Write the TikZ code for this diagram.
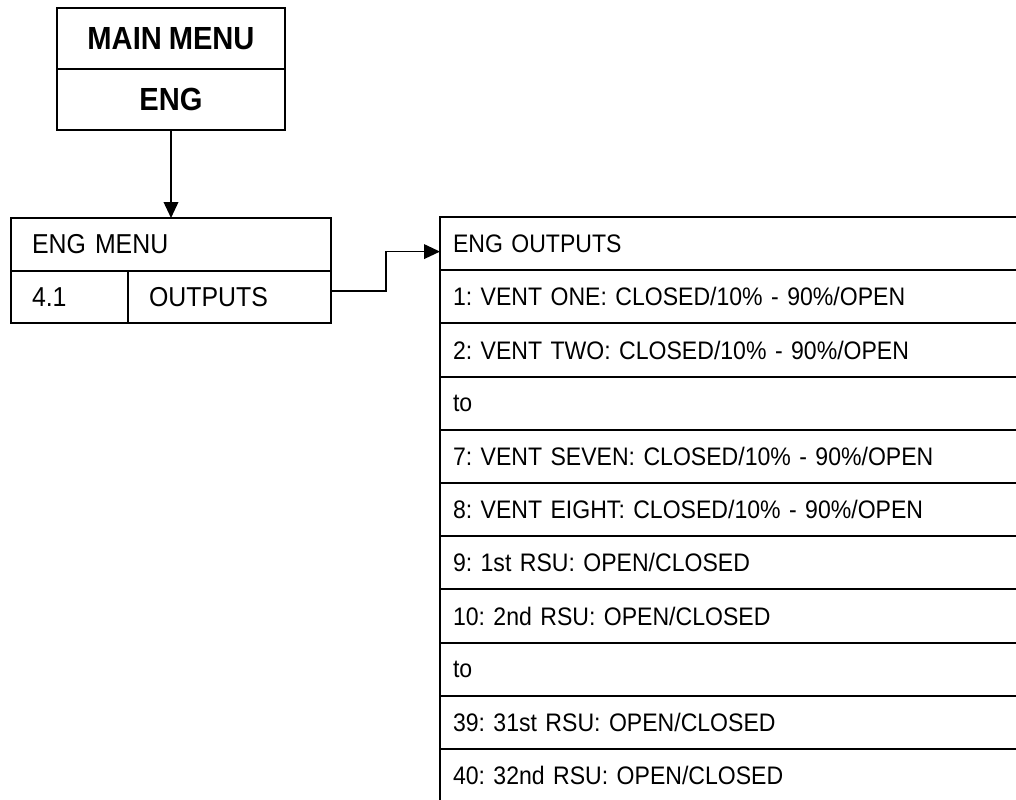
\documentclass[tikz,border=0pt]{standalone}
\usepackage{fontspec}
\setmainfont{Liberation Sans}[WordSpace=0.85, FakeStretch=0.91]
\frenchspacing
\usetikzlibrary{arrows.meta, positioning}

\begin{document}
\begin{tikzpicture}[
    x=0.75pt, y=-0.75pt,
    every node/.style={font=\fontsize{19}{22}\selectfont},
    cell/.style={draw, line width=1.5pt, rectangle, inner ysep=0pt, outer sep=0pt,
                 anchor=north west, align=left},
    headcell/.style={draw, line width=1.5pt, outer sep=0pt, minimum width=171pt,
                     minimum height=45.75pt, anchor=north west,
                     font=\fontsize{24}{28}\selectfont\bfseries},
    menucell/.style={cell, inner xsep=15.75pt, minimum height=39.5pt,
                     font=\fontsize{20.5}{24}\selectfont},
    outcell/.style={cell, inner xsep=9.75pt, text width=430.5pt, minimum height=39.9pt},
    arr/.style={-{Triangle[length=12pt, width=11pt]}, line width=1.2pt},
]
    \clip (0,0) rectangle (1016,799);

    % Main menu block at the top.
    \node[headcell] (main) at (57,8) {MAIN MENU};
    \node[headcell] (eng) at (main.south west) {ENG};

    % Engineering menu below it.
    \node[menucell, text width=208.5pt] (engmenu) at (11,218) {ENG MENU};
    \node[menucell, text width=56.25pt] (num) at (engmenu.south west) {4.1};
    \node[menucell, text width=120.75pt] (outputs) at (num.north east) {OUTPUTS};
    \draw[arr] (eng.south) -- (engmenu.north);

    % Output list on the right.
    \node[outcell] (out0) at (440,217) {ENG OUTPUTS};
    \foreach \txt [count=\i] in {
        {1: VENT ONE: CLOSED/10\% - 90\%/OPEN},
        {2: VENT TWO: CLOSED/10\% - 90\%/OPEN},
        {to},
        {7: VENT SEVEN: CLOSED/10\% - 90\%/OPEN},
        {8: VENT EIGHT: CLOSED/10\% - 90\%/OPEN},
        {9: 1st RSU: OPEN/CLOSED},
        {10: 2nd RSU: OPEN/CLOSED},
        {to},
        {39: 31st RSU: OPEN/CLOSED},
        {40: 32nd RSU: OPEN/CLOSED}}
        \node[outcell] (out\i) at (440,{217+53.2*\i}) {\txt};

    % Elbow from OUTPUTS to the list.
    \coordinate (src) at ([yshift=4.5pt]outputs.east);
    \coordinate (dst) at ([yshift=-6pt]out0.west);
    \coordinate (bend) at (386,0);
    \draw[arr] (src) -- (src -| bend) |- (dst);
\end{tikzpicture}
\end{document}
